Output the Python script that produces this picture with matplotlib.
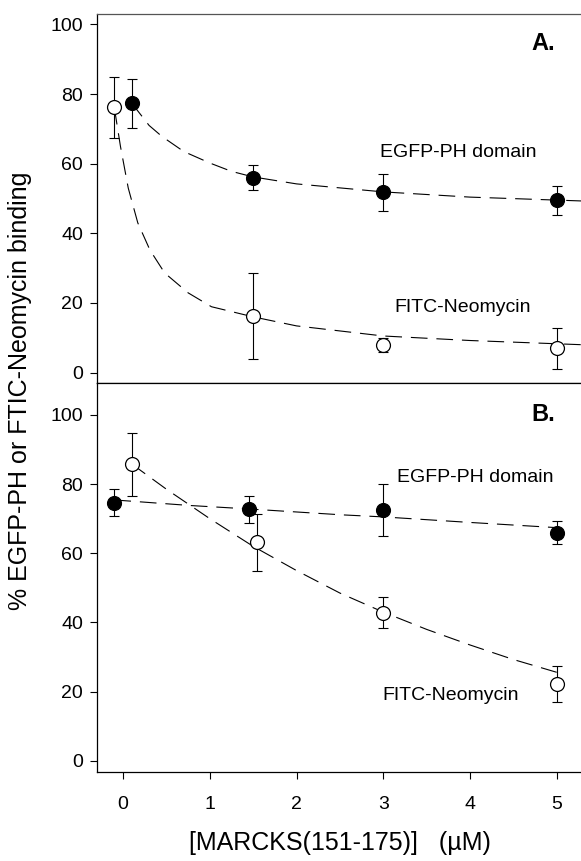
import numpy as np
import matplotlib
matplotlib.use("Agg")
import matplotlib.pyplot as plt

plt.rcParams['font.family'] = ['Liberation Sans', 'DejaVu Sans']

# ---- panel A: measured points (mean, error bar half-widths) ----
a_egfp_x = [0.1, 1.5, 3.0, 5.0]
a_egfp_y = [77.4, 55.9, 51.9, 49.6]
a_egfp_lo = [7.2, 3.5, 5.5, 4.3]
a_egfp_hi = [6.8, 3.7, 5.1, 4.0]

a_fitc_x = [-0.1, 1.5, 3.0, 5.0]
a_fitc_y = [76.2, 16.3, 8.0, 7.1]
a_fitc_lo = [8.9, 12.3, 2.0, 6.0]
a_fitc_hi = [8.6, 12.4, 2.0, 5.8]

# fitted curves
a_egfp_fit_x = [0.1, 0.3, 0.45, 0.7, 1.0, 1.25, 1.5, 2.0, 3.0, 4.0, 5.28]
a_egfp_fit_y = [77.4, 71.0, 67.8, 63.5, 60.2, 57.8, 56.2, 54.2, 51.9, 50.4, 49.3]
a_fitc_fit_x = [-0.1, -0.03, 0.06, 0.17, 0.31, 0.48, 0.75, 1.02, 1.5, 2.0, 3.0, 4.0, 5.28]
a_fitc_fit_y = [76.0, 65.0, 53.0, 43.0, 35.2, 28.6, 22.9, 18.9, 16.0, 13.4, 10.5, 9.2, 8.0]

# ---- panel B ----
b_egfp_x = [-0.1, 1.45, 3.0, 5.0]
b_egfp_y = [74.6, 72.8, 72.5, 65.9]
b_egfp_lo = [3.8, 4.0, 7.5, 3.2]
b_egfp_hi = [4.0, 3.8, 7.6, 3.5]

b_fitc_x = [0.1, 1.55, 3.0, 5.0]
b_fitc_y = [85.8, 63.3, 42.8, 22.3]
b_fitc_lo = [9.2, 8.4, 4.4, 5.2]
b_fitc_hi = [9.0, 8.1, 4.6, 5.2]

b_egfp_fit_x = [-0.1, 0.77, 1.45, 2.52, 3.0, 4.0, 5.0]
b_egfp_fit_y = [75.4, 73.8, 72.8, 71.1, 70.5, 68.9, 67.4]
b_fitc_fit_x = [0.1, 0.5, 1.0, 1.5, 2.0, 2.5, 3.0, 3.5, 4.0, 4.5, 5.0]
b_fitc_fit_y = [85.8, 78.5, 70.0, 62.0, 55.0, 48.5, 43.0, 38.0, 33.5, 29.3, 25.6]

y_ticks = [0, 20, 40, 60, 80, 100]
x_ticks = [0, 1, 2, 3, 4, 5]

fig = plt.figure(figsize=(5.81, 8.61), dpi=100)
ax_a = fig.add_axes([0.167, 0.5552, 0.833, 0.4285])
ax_b = fig.add_axes([0.167, 0.1034, 0.833, 0.4518])

DASH = (15, 8)
MS = 10


def draw_panel(ax, fx1, fy1, fx2, fy2, pts):
    ax.plot(fx1, fy1, color='k', lw=0.8, dashes=DASH, zorder=2)
    ax.plot(fx2, fy2, color='k', lw=0.8, dashes=DASH, zorder=2)
    for x, y, lo, hi, face in pts:
        ax.errorbar(x, y, yerr=[lo, hi], fmt='none', ecolor='k',
                    elinewidth=0.8, capsize=3.5, capthick=0.8, zorder=3)
        ax.plot(x, y, 'o', ms=MS, mfc=face, mec='k', mew=0.9,
                linestyle='none', zorder=4)


draw_panel(ax_a, a_egfp_fit_x, a_egfp_fit_y, a_fitc_fit_x, a_fitc_fit_y,
           [(a_egfp_x, a_egfp_y, a_egfp_lo, a_egfp_hi, 'k'),
            (a_fitc_x, a_fitc_y, a_fitc_lo, a_fitc_hi, 'white')])
draw_panel(ax_b, b_egfp_fit_x, b_egfp_fit_y, b_fitc_fit_x, b_fitc_fit_y,
           [(b_egfp_x, b_egfp_y, b_egfp_lo, b_egfp_hi, 'k'),
            (b_fitc_x, b_fitc_y, b_fitc_lo, b_fitc_hi, 'white')])

for ax in (ax_a, ax_b):
    ax.set_xlim(-0.3, 5.28)
    ax.set_yticks(y_ticks)
    ax.spines['right'].set_visible(False)
    for s in ('left', 'top', 'bottom'):
        ax.spines[s].set_linewidth(0.9)
    ax.tick_params(axis='y', direction='out', length=5, width=0.8,
                   labelsize=14, pad=5)

ax_a.set_ylim(-3, 103)
ax_a.spines['top'].set_color('#555555')
ax_a.tick_params(axis='x', bottom=False, labelbottom=False)

ax_b.set_ylim(-3.2, 109.2)
ax_b.set_xticks(x_ticks)
ax_b.tick_params(axis='x', direction='out', length=5, width=0.8,
                 labelsize=14, pad=12)

# labels inside the panels
ax_a.text(3.87, 63.3, 'EGFP-PH domain', fontsize=14, ha='center', va='center')
ax_a.text(3.91, 18.6, 'FITC-Neomycin', fontsize=14, ha='center', va='center')
ax_a.text(4.84, 94.6, 'A.', fontsize=17, fontweight='bold', ha='center', va='center')

ax_b.text(4.06, 81.8, 'EGFP-PH domain', fontsize=14, ha='center', va='center')
ax_b.text(3.78, 18.8, 'FITC-Neomycin', fontsize=14, ha='center', va='center')
ax_b.text(4.84, 100.0, 'B.', fontsize=17, fontweight='bold', ha='center', va='center')

fig.text(20 / 581, 1 - 391 / 861, '% EGFP-PH or FTIC-Neomycin binding',
         rotation=90, fontsize=18, ha='center', va='center')
fig.text(340 / 581, 1 - 843 / 861, '[MARCKS(151-175)]   (\u00b5M)',
         fontsize=18, ha='center', va='center')

fig.savefig('out.png', dpi=100)
